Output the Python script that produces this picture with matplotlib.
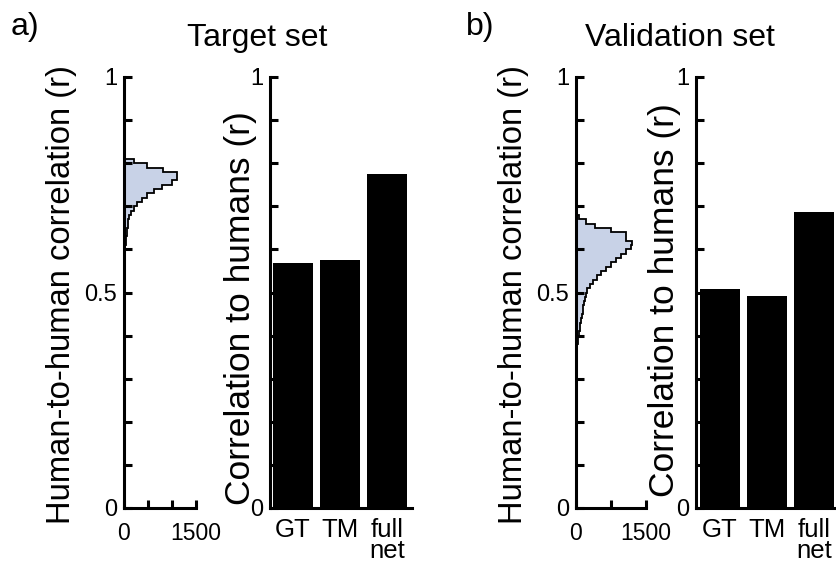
import numpy as np
import matplotlib
matplotlib.use("Agg")
import matplotlib.pyplot as plt
from matplotlib.ticker import MultipleLocator

plt.rcParams['font.family'] = ['Liberation Sans', 'DejaVu Sans']

# histogram of human-to-human correlations, bins of 0.01 starting at *_start
target_start = 0.50
target_counts = [2, 2, 3, 4, 5, 8, 12, 15, 20, 25, 30, 38, 45, 55, 65, 75, 90, 110,
                 150, 210, 280, 370, 480, 620, 800, 990, 1110, 1110, 820, 480, 205, 30]

valid_start = 0.33
valid_counts = [5, 10, 15, 20, 30, 40, 50, 65, 80, 95, 110, 125, 140, 155, 175, 195,
                215, 245, 290, 360, 450, 540, 640, 750, 855, 960, 1070, 1180, 1210,
                1070, 1070, 750, 400, 210, 70]

models = ['GT', 'TM', 'full\nnet']
target_corr = [0.568, 0.575, 0.775]
valid_corr = [0.508, 0.492, 0.687]

W, H = 836, 562
fig = plt.figure(figsize=(W / 100, H / 100), dpi=100)

hist_fill = '#c8d2e7'
lw_spine = 2.2
fs_title = 23
fs_hist_label = 23.6
fs_bar_label = 25.5
fs_ytick = 17
fs_hist_xtick = 16.5
fs_bar_xtick = 18.5


def px_axes(x0, x1, y_top, y_bot):
    return fig.add_axes([x0 / W, 1 - y_bot / H, (x1 - x0) / W, (y_bot - y_top) / H])


def style_axes(ax, ylabels):
    for s in ['top', 'right']:
        ax.spines[s].set_visible(False)
    for s in ['left', 'bottom']:
        ax.spines[s].set_linewidth(lw_spine)
    ax.set_ylim(0, 1)
    ax.yaxis.set_minor_locator(MultipleLocator(0.1))
    ax.tick_params(axis='y', which='both', direction='in', length=6, width=2.2,
                   labelsize=fs_ytick, pad=5)
    ax.set_yticks([0, 0.5, 1])
    ax.set_yticklabels(ylabels)
    ax.set_facecolor('none')


def hist_panel(x0, x1, start, counts, xticks, label_x, label_y):
    ax = px_axes(x0, x1, 77, 508)
    style_axes(ax, ['0', '0.5', '1'])
    e = start + 0.01 * np.arange(len(counts) + 1)
    ax.stairs(counts, e, orientation='horizontal', fill=True, color=hist_fill)
    ax.stairs(counts, e, orientation='horizontal', color='black', linewidth=1.3)
    ax.set_xlim(0, 1500)
    ax.set_xticks(xticks)
    ax.set_xticklabels(['0' if t == 0 else ('1500' if t == 1500 else '') for t in xticks])
    ax.tick_params(axis='x', direction='in', length=6, width=2.2,
                   labelsize=fs_hist_xtick, pad=10)
    ax.set_ylabel('Human-to-human correlation (r)', fontsize=fs_hist_label)
    ax.yaxis.set_label_coords(-(x0 - label_x) / (x1 - x0), (508 - label_y) / 431)
    return ax


def bar_panel(x0, x1, values, xleft, label_x, label_y):
    ax = px_axes(x0, x1, 77, 508)
    style_axes(ax, ['0', '', '1'])
    pos = np.arange(1, len(values) + 1)
    ax.bar(pos, values, width=0.85, color='black')
    ax.set_xlim(xleft, xleft + (x1 - x0) / 47.0)
    ax.set_xticks(pos)
    ax.set_xticklabels(models, fontsize=fs_bar_xtick, linespacing=0.85, va='top')
    ax.tick_params(axis='x', length=0, pad=7)
    ax.set_ylabel('Correlation to humans (r)', fontsize=fs_bar_label)
    ax.yaxis.set_label_coords(-(x0 - label_x) / (x1 - x0), (508 - label_y) / 431)
    return ax


hist_panel(124, 196, target_start, target_counts, [0, 500, 1000, 1500], 77, 295)
bar_panel(270, 412, target_corr, 0.51, 257, 308)
hist_panel(576, 646, valid_start, valid_counts, [0, 750, 1500], 529, 295)
bar_panel(696, 840, valid_corr, 0.49, 681, 300)

fig.text(25 / W, 1 - 27 / H, 'a)', fontsize=fs_title, ha='center', va='center')
fig.text(257 / W, 1 - 38 / H, 'Target set', fontsize=fs_title, ha='center', va='center')
fig.text(480 / W, 1 - 27 / H, 'b)', fontsize=fs_title, ha='center', va='center')
fig.text(680 / W, 1 - 38 / H, 'Validation set', fontsize=fs_title, ha='center', va='center')

fig.savefig('out.png', dpi=100)
